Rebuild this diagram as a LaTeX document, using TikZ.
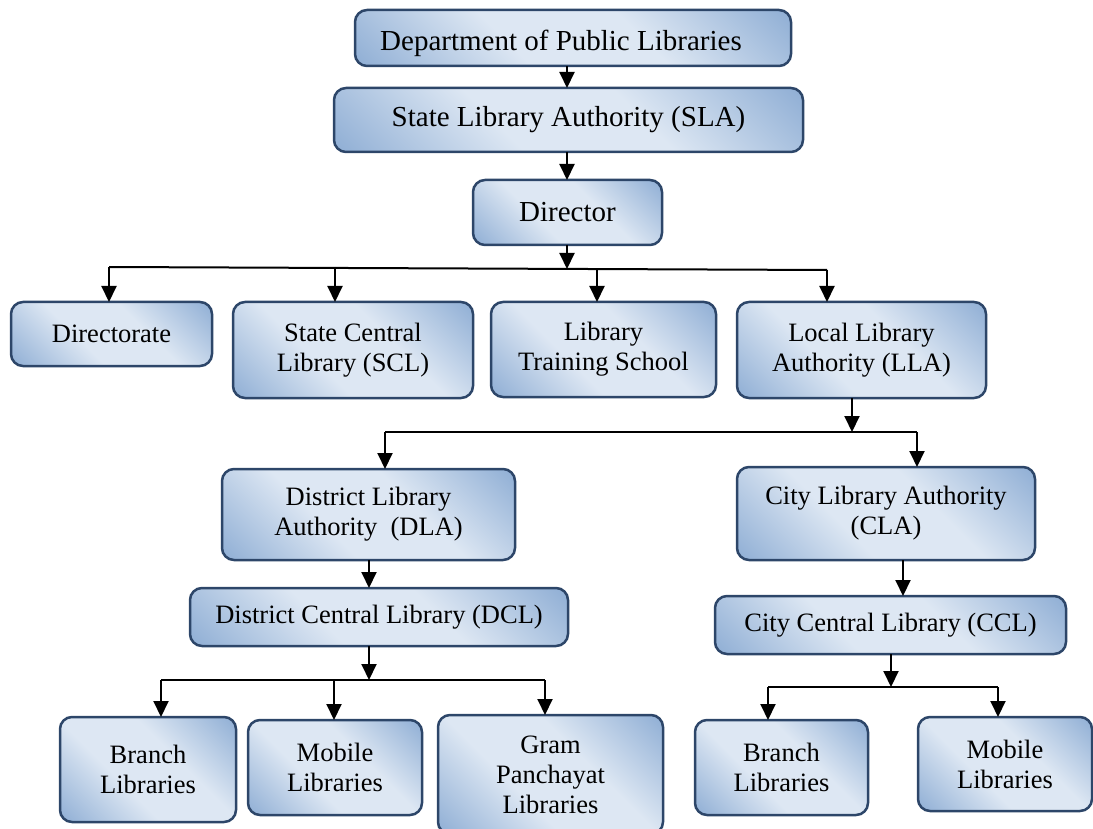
\documentclass[tikz,border=0pt]{standalone}
\usepackage{fontspec}
\setmainfont{Liberation Serif}
\usetikzlibrary{arrows.meta}
\definecolor{bdark}{RGB}{147,177,214}
\definecolor{blight}{RGB}{221,231,243}
\definecolor{bedge}{RGB}{45,70,105}
\pgfdeclareverticalshading{boxshade}{100bp}{color(0bp)=(bdark); color(16bp)=(bdark); color(40bp)=(blight); color(60bp)=(blight); color(84bp)=(bdark); color(100bp)=(bdark)}
\newcommand{\bigfs}{\fontsize{29}{32}\selectfont}
\newcommand{\smfs}{\fontsize{26.5}{30}\selectfont}
\tikzset{
  boxstyle/.style={draw=bedge, line width=2.5pt, rounded corners=12pt,
    shading=boxshade, shading angle=-45,
    inner sep=0pt, outer sep=0pt, align=center, text=black},
  conn/.style={line width=2pt, draw=black},
  arr/.style={conn, -{Triangle[width=15pt,length=16pt]}}
}
% \bx{name}{x1}{y1}{x2}{y2}{font}{text}
\newcommand{\bx}[7]{%
  \node[boxstyle, minimum width={(#4-#2)*1pt}, minimum height={(#5-#3)*1pt}, font=#6]
    (#1) at ({(#2+#4)/2},{(#3+#5)/2}) {#7};}
\begin{document}
\begin{tikzpicture}[x=1pt,y=-1pt]
\useasboundingbox (0,0) rectangle (1093,829);
\bx{dept}{355}{10}{791}{66}{\bigfs}{\hspace*{-24pt}\raisebox{-5pt}[\height][\depth]{Department of Public Libraries}}
\bx{sla}{334}{88}{803}{152}{\bigfs}{State Library Authority (SLA)}
\bx{dir}{473}{180}{662}{245}{\bigfs}{Director}
\bx{dte}{11}{302}{212}{366}{\smfs}{Directorate}
\bx{scl}{233}{302}{473}{398}{\smfs}{State Central\\Library (SCL)}
\bx{lts}{491}{302}{716}{397}{\smfs}{Library\\Training School}
\bx{lla}{737}{302}{986}{398}{\smfs}{Local Library\\Authority (LLA)}
\bx{dla}{222}{469}{515}{560}{\smfs}{District Library\\Authority~~(DLA)}
\bx{cla}{737}{467}{1035}{560}{\smfs}{City Library Authority\\(CLA)}
\bx{dcl}{190}{588}{568}{646}{\smfs}{District Central Library (DCL)}
\bx{ccl}{715}{596}{1066}{654}{\smfs}{City Central Library (CCL)}
\bx{br1}{60}{717}{236}{822}{\smfs}{Branch\\Libraries}
\bx{mo1}{248}{720}{422}{815}{\smfs}{Mobile\\Libraries}
\bx{gp}{438}{715}{663}{834}{\smfs}{Gram\\Panchayat\\Libraries}
\bx{br2}{695}{720}{868}{815}{\smfs}{Branch\\Libraries}
\bx{mo2}{918}{717}{1092}{811}{\smfs}{Mobile\\Libraries}
% top chain
\draw[arr] (dept.south -| 567,0) -- (sla.north -| 567,0);
\draw[arr] (sla.south -| 567,0) -- (dir.north -| 567,0);
% bus 1
\coordinate (b1) at (567,269);
\coordinate (b1a) at (109,267);
\coordinate (b1b) at (335,267);
\coordinate (b1c) at (597,269);
\coordinate (b1d) at (827,270);
\draw[arr] (dir.south -| b1) -- (b1);
\draw[conn] (b1a) -- (b1d);
\draw[arr] (b1a) -- (b1a |- dte.north);
\draw[arr] (b1b) -- (b1b |- scl.north);
\draw[arr] (b1c) -- (b1c |- lts.north);
\draw[arr] (b1d) -- (b1d |- lla.north);
% bus 2
\coordinate (b2) at (852,432);
\coordinate (b2a) at (385,432);
\coordinate (b2b) at (917,432);
\draw[arr] (lla.south -| b2) -- (b2);
\draw[conn] (b2a) -- (b2b);
\draw[arr] (b2a) -- (b2a |- dla.north);
\draw[arr] (b2b) -- (b2b |- cla.north);
% DLA -> DCL, CLA -> CCL
\coordinate (v1) at (369,600);
\coordinate (v2) at (903,600);
\draw[arr] (dla.south -| v1) -- (dcl.north -| v1);
\draw[arr] (cla.south -| v2) -- (ccl.north -| v2);
% bus 3
\coordinate (b3) at (369,680);
\coordinate (b3a) at (161,680);
\coordinate (b3b) at (334,680);
\coordinate (b3c) at (545,680);
\draw[arr] (dcl.south -| b3) -- (b3);
\draw[conn] (b3a) -- (b3c);
\draw[arr] (b3a) -- (b3a |- br1.north);
\draw[arr] (b3b) -- (b3b |- mo1.north);
\draw[arr] (b3c) -- (b3c |- gp.north);
% bus 4
\coordinate (b4) at (891,687);
\coordinate (b4a) at (768,687);
\coordinate (b4b) at (998,687);
\draw[arr] (ccl.south -| b4) -- (b4);
\draw[conn] (b4a) -- (b4b);
\draw[arr] (b4a) -- (b4a |- br2.north);
\draw[arr] (b4b) -- (b4b |- mo2.north);
\end{tikzpicture}
\end{document}
